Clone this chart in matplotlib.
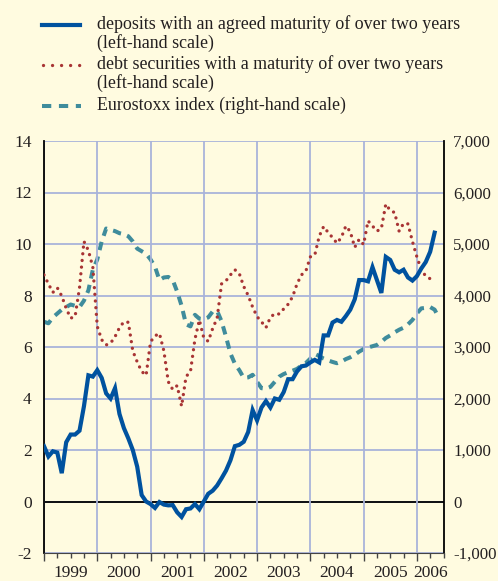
import matplotlib.pyplot as plt
from matplotlib.lines import Line2D
from matplotlib.ticker import FixedLocator, MultipleLocator, FuncFormatter
import numpy as np

# monthly data, January 1999 onwards
deposits = [2.15, 1.75, 1.95, 1.9, 1.1, 2.3, 2.6, 2.6, 2.75, 3.7, 4.9, 4.85,
            5.1, 4.8, 4.2, 4.0, 4.4, 3.4, 2.85, 2.45, 2.0, 1.35, 0.25, 0.0,
            -0.1, -0.25, -0.02, -0.12, -0.15, -0.14, -0.42, -0.6, -0.3, -0.27, -0.1, -0.3,
            0.0, 0.3, 0.42, 0.62, 0.9, 1.2, 1.6, 2.15, 2.2, 2.32, 2.7, 3.55,
            3.15, 3.65, 3.9, 3.65, 4.0, 3.95, 4.25, 4.75, 4.75, 5.05, 5.25, 5.28,
            5.4, 5.5, 5.4, 6.45, 6.45, 6.95, 7.05, 6.98, 7.2, 7.45, 7.85, 8.6,
            8.6, 8.55, 9.1, 8.6, 8.1, 9.5, 9.38, 9.0, 8.9, 9.0, 8.7, 8.58,
            8.75, 9.05, 9.3, 9.7, 10.44]

debt_securities = [8.8, 8.45, 8.12, 8.3, 7.98, 7.5, 7.12, 7.18, 8.3, 10.1, 9.75, 9.1,
                   6.8, 6.28, 6.08, 6.15, 6.4, 6.75, 6.98, 6.96, 5.85, 5.42, 5.05, 4.9,
                   6.2, 6.43, 6.53, 5.85, 4.65, 4.35, 4.5, 3.7, 4.85, 5.05, 6.3, 7.05,
                   6.35, 6.22, 6.72, 7.12, 8.45, 8.57, 8.8, 9.0, 8.85, 8.35, 8.0, 7.55,
                   7.18, 6.98, 6.75, 7.15, 7.3, 7.28, 7.48, 7.66, 7.95, 8.45, 8.8, 8.95,
                   9.5, 9.57, 10.3, 10.68, 10.45, 10.25, 10.03, 10.26, 10.7, 10.48, 9.87, 10.18,
                   9.98, 10.9, 10.7, 10.5, 10.6, 11.55, 11.3, 11.22, 10.5, 10.8, 10.78, 10.1,
                   9.5, 9.0, 8.75, 8.65]

eurostoxx = [3490, 3460, 3575, 3650, 3725, 3775, 3825, 3800, 3775, 3900, 4100, 4500,
             4700, 5050, 5300, 5275, 5250, 5210, 5190, 5150, 5050, 4910, 4860, 4810,
             4700, 4560, 4300, 4350, 4360, 4300, 4075, 3800, 3440, 3400, 3625, 3550,
             3540, 3575, 3690, 3700, 3500, 3200, 2875, 2675, 2550, 2400, 2410, 2460,
             2325, 2200, 2190, 2225, 2325, 2425, 2475, 2510, 2540, 2575, 2640, 2690,
             2775, 2865, 2825, 2775, 2740, 2710, 2685, 2715, 2765, 2800, 2850, 2910,
             2960, 2990, 3015, 3040, 3100, 3175, 3225, 3285, 3335, 3375, 3440, 3525,
             3650, 3750, 3760, 3775, 3725, 3560]

years = ['1999', '2000', '2001', '2002', '2003', '2004', '2005', '2006']
year_label_pos = [1999.5, 2000.5, 2001.5, 2002.5, 2003.5, 2004.5, 2005.5, 2006.25]

t_dep = 1999 + np.arange(len(deposits)) / 12
t_debt = 1999 + np.arange(len(debt_securities)) / 12
t_stoxx = 1999 + np.arange(len(eurostoxx)) / 12

plt.rcParams['font.family'] = ['Liberation Serif', 'DejaVu Serif']
plt.rcParams['font.size'] = 12

bg = '#fffbe0'
grid_col = '#a9b3da'
blue = '#00529f'
red = '#a83434'
teal = '#3f8c9c'
txt = '#231f20'

fig = plt.figure(figsize=(4.98, 5.81), dpi=100, facecolor=bg)
ax = fig.add_axes([44/498, 28/581, 399.5/498, 412/581])
ax2 = ax.twinx()
ax.set_zorder(2)
ax2.set_zorder(1)
ax.patch.set_visible(False)
ax2.patch.set_visible(False)

# right axis (eurostoxx) underneath
ax2.set_ylim(-1000, 7000)
ax2.yaxis.set_major_locator(MultipleLocator(1000))
ax2.yaxis.set_major_formatter(FuncFormatter(lambda v, p: '{:,}'.format(int(v))))
ax2.grid(True, axis='y', color=grid_col, lw=1.3)
ax2.plot(t_stoxx, eurostoxx, color=teal, lw=2.9, linestyle=(0, (2.1, 1.6)), dash_capstyle='butt')
ax2.tick_params(axis='y', length=0, pad=7, labelcolor=txt, labelsize=12.2)

# left axis
ax.set_xlim(1999, 2006.5)
ax.set_ylim(-2, 14)
ax.yaxis.set_major_locator(MultipleLocator(2))
ax.yaxis.set_major_formatter(FuncFormatter(lambda v, p: '%d' % v))
ax.tick_params(axis='y', length=0, pad=9, labelcolor=txt, labelsize=12.5)
ax.xaxis.set_major_locator(FixedLocator(np.arange(1999, 2007)))
ax.xaxis.set_minor_locator(MultipleLocator(0.25))
ax.tick_params(axis='x', which='major', length=6, width=1, color='#444444', labelbottom=False)
ax.tick_params(axis='x', which='minor', length=3.5, width=1, color='#444444')
ax.grid(True, axis='x', color=grid_col, lw=1.3)
ax.axhline(0, color='black', lw=1.3, zorder=1.5)

ax.plot(t_debt, debt_securities, color=red, lw=2.4, linestyle=(0, (0.01, 2.0)),
        dash_capstyle='round', zorder=3)
ax.plot(t_dep, deposits, color=blue, lw=3.0, zorder=4, solid_joinstyle='miter')

for a in (ax, ax2):
    a.spines['top'].set_visible(False)
ax.spines['left'].set_color('black')
ax.spines['left'].set_linewidth(1.3)
ax.spines['bottom'].set_color('#444444')
ax.spines['right'].set_visible(False)
ax2.spines['left'].set_visible(False)
ax2.spines['bottom'].set_visible(False)
ax2.spines['right'].set_color('black')
ax2.spines['right'].set_linewidth(1.3)

for lbl, pos in zip(years, year_label_pos):
    ax.text(pos, -0.028, lbl, transform=ax.get_xaxis_transform(), ha='center', va='top',
            fontsize=12.5, color=txt)

# legend drawn by hand in figure pixels
W, H = 498, 581
def fy(py):
    return 1 - py / H

fig.add_artist(Line2D([42/W, 80/W], [fy(25), fy(25)], color=blue, lw=3.0))
fig.add_artist(Line2D([43/W, 80/W], [fy(65), fy(65)], color=red, lw=2.4,
                      linestyle=(0, (0.01, 2.7)), dash_capstyle='round'))
fig.add_artist(Line2D([42/W, 81/W], [fy(106), fy(106)], color=teal, lw=2.9,
                      linestyle=(0, (2.3, 1.9)), dash_capstyle='butt'))

legend_lines = [('deposits with an agreed maturity of over two years', 24),
                ('(left-hand scale)', 43),
                ('debt securities with a maturity of over two years', 64),
                ('(left-hand scale)', 83),
                ('Eurostoxx index (right-hand scale)', 105)]
for s, py in legend_lines:
    fig.text(97/W, fy(py), s, ha='left', va='center', fontsize=12.9, color=txt)

fig.savefig('out.png', dpi=100, facecolor=bg)
